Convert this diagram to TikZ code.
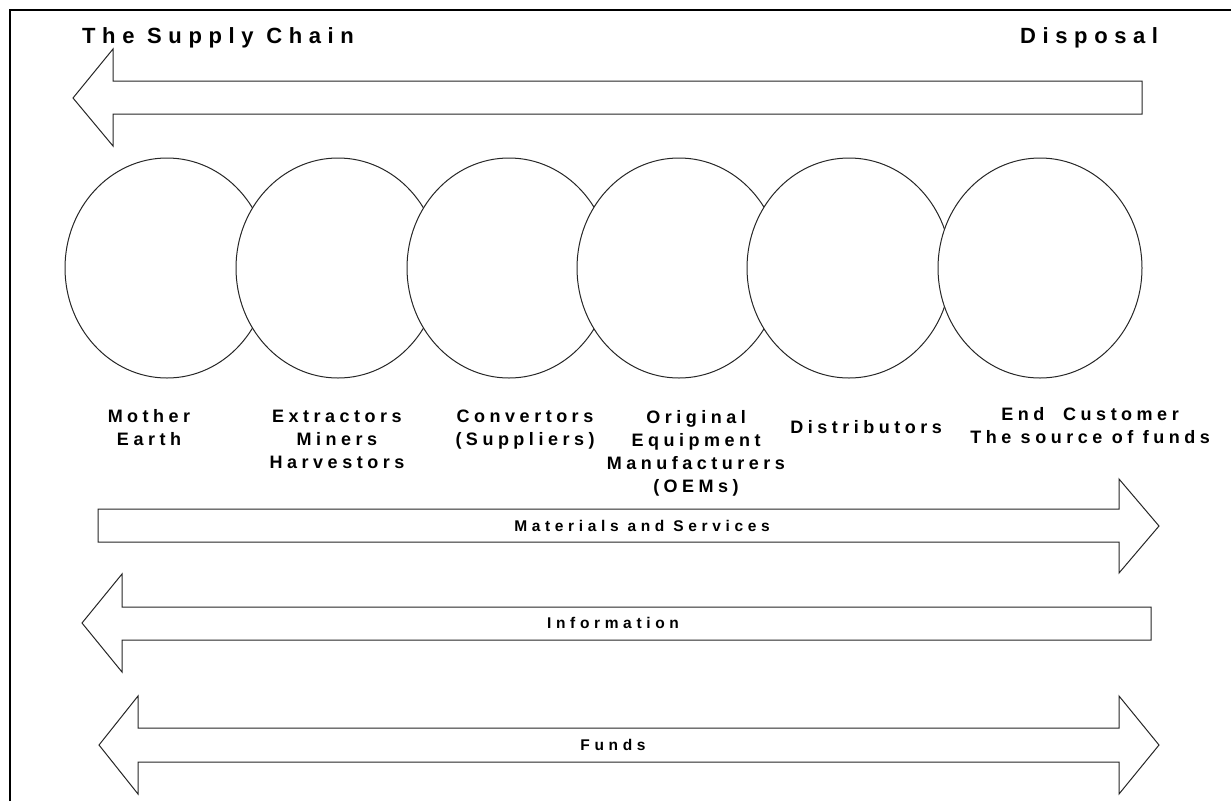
\documentclass[tikz,border=0pt]{standalone}
\usepackage{fontspec}
\setmainfont{Liberation Sans}
\newfontfamily\widefont[LetterSpace=30]{Liberation Sans}
\newfontfamily\stagefont[LetterSpace=25]{Liberation Sans}
\usetikzlibrary{shapes.geometric}

\tikzset{
  frame/.style={line width=2.5pt, black},
  bigarrow/.style={draw=black!85, line width=1pt, fill=white, line join=miter},
  stage/.style={ellipse, draw=black!85, line width=1pt, fill=white,
    minimum width=204pt, minimum height=220pt, inner sep=0pt},
  heading/.style={inner sep=0pt, anchor=base west,
    font=\widefont\bfseries\fontsize{22}{26}\selectfont},
  % anchored at the baseline of the last line
  stagelabel/.style={inner sep=0pt, anchor=base, align=center,
    font=\stagefont\bfseries\fontsize{18}{23}\selectfont},
  flowlabel/.style={inner sep=0pt, anchor=center,
    font=\widefont\bfseries\fontsize{15.5}{18}\selectfont}
}

\begin{document}
\begin{tikzpicture}[x=1pt, y=-1pt]
  \useasboundingbox (0,0) rectangle (1231,801);

  % page frame: top and left edges only
  \draw[frame] (10,801) -- (10,10) -- (1231,10);

  % headings
  \node[heading] (title) at (82,43) {The Supply Chain};
  \node[heading] (disposal) at (1020,43) {Disposal};

  % disposal arrow pointing back towards the start of the chain
  \draw[bigarrow] (1142,81) -- (113,81) -- (113,49) -- (73,98)
    -- (113,146) -- (113,114) -- (1142,114) -- cycle;

  % stages of the chain, each drawn over the previous one
  \node[stage] (earth) at (167,268) {};
  \node[stage] (extract) at (338,268) {};
  \node[stage] (convert) at (509,268) {};
  \node[stage] (oem) at (679,268) {};
  \node[stage] (distrib) at (849,268) {};
  \node[stage] (customer) at (1040,268) {};

  % stage labels
  \node[stagelabel] (lEarth) at (149,445) {Mother\\Earth};
  \node[stagelabel] (lExtract) at (337,468) {Extractors\\Miners\\Harvestors};
  \node[stagelabel] (lConvert) at (525,445) {Convertors\\(Suppliers)};
  \node[stagelabel] (lOem) at (696,492) {Original\\Equipment\\Manufacturers\\(OEMs)};
  \node[stagelabel] (lDistrib) at (866,433) {Distributors};
  \node[stagelabel] (lCustomer) at (1090,443) {End\ \ Customer\\The source of funds};

  % materials and services flow downstream
  \draw[bigarrow] (98,509) -- (1119,509) -- (1119,479) -- (1159,526)
    -- (1119,573) -- (1119,542) -- (98,542) -- cycle;
  \node[flowlabel] (materials) at (642,526) {Materials and Services};

  % information flows upstream
  \draw[bigarrow] (1151,607) -- (122,607) -- (122,574) -- (82,623)
    -- (122,672) -- (122,640) -- (1151,640) -- cycle;
  \node[flowlabel] (information) at (613,623) {Information};

  % funds flow both ways
  \draw[bigarrow] (99,745) -- (138,696) -- (138,728) -- (1119,728)
    -- (1119,696) -- (1159,745) -- (1119,794) -- (1119,762)
    -- (138,762) -- (138,794) -- cycle;
  \node[flowlabel] (funds) at (613,745) {Funds};
\end{tikzpicture}
\end{document}
